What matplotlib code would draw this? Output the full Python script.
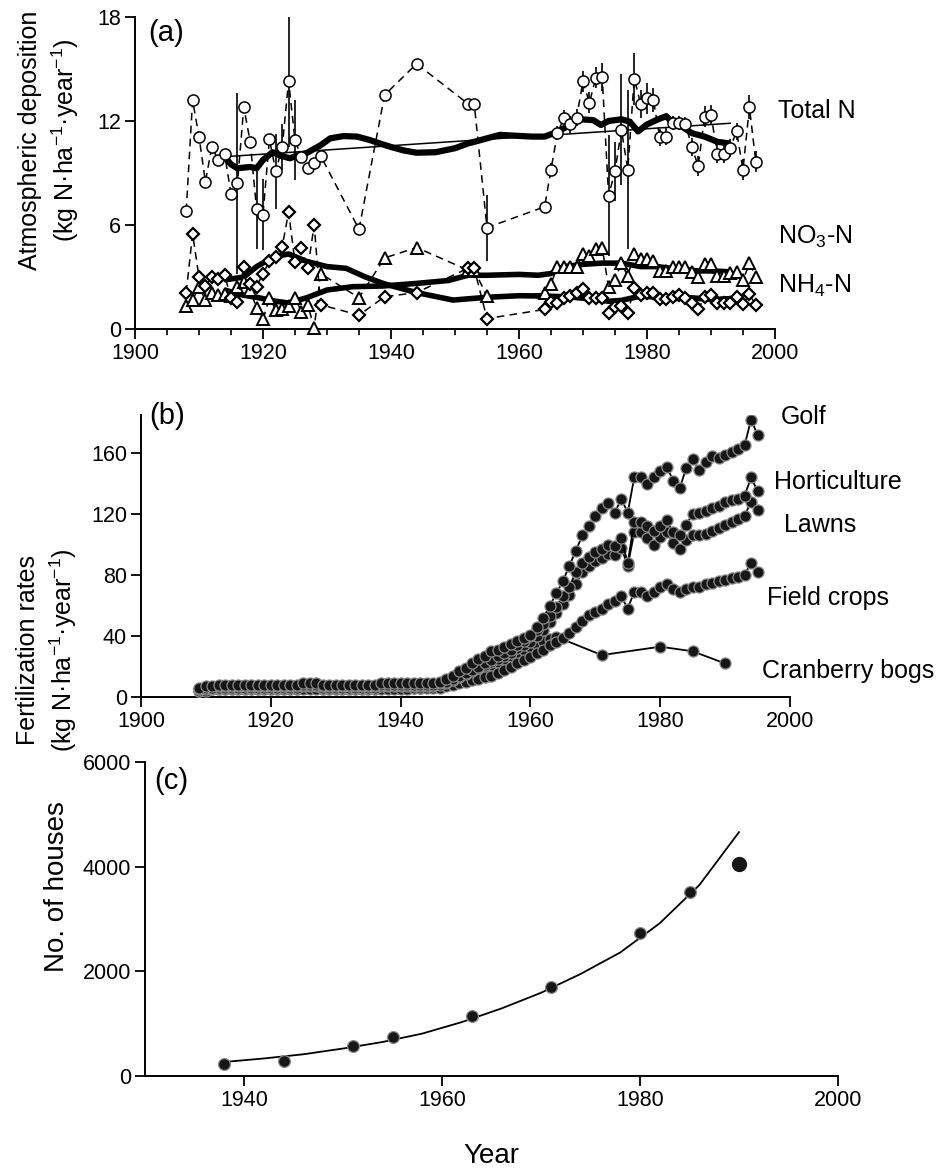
import numpy as np
import matplotlib
matplotlib.use("Agg")
from matplotlib import pyplot as plt
from matplotlib.ticker import MultipleLocator

plt.rcParams['font.family'] = ['Liberation Sans', 'DejaVu Sans']
plt.rcParams['mathtext.fontset'] = 'custom'
plt.rcParams['mathtext.rm'] = 'Liberation Sans'
plt.rcParams['mathtext.it'] = 'Liberation Sans:italic'

# ---- panel (a): atmospheric deposition ----
dep_years = [1908, 1909, 1910, 1911, 1912, 1913, 1914, 1915, 1916, 1917, 1918,
             1919, 1920, 1921, 1922, 1923, 1924, 1925, 1926, 1927, 1928, 1929,
             1935, 1939, 1944, 1952, 1953, 1955,
             1964, 1965, 1966, 1967, 1968, 1969, 1970, 1971, 1972, 1973, 1974,
             1975, 1976, 1977, 1978, 1979, 1980, 1981, 1982, 1983, 1984, 1985,
             1986, 1987, 1988, 1989, 1990, 1991, 1992, 1993, 1994, 1995, 1996, 1997]
total_n = [6.8, 13.2, 11.1, 8.5, 10.5, 9.75, 10.1, 7.8, 8.4, 12.8, 10.8,
           6.9, 6.6, 10.95, 9.1, 10.5, 14.3, 10.9, 9.9, 9.3, 9.6, 10.0,
           5.75, 13.5, 15.3, 13.0, 13.0, 5.85,
           7.05, 9.2, 11.3, 12.15, 11.8, 12.2, 14.3, 13.05, 14.5, 14.55, 7.7,
           9.1, 11.5, 9.2, 14.45, 13.0, 13.3, 13.2, 11.05, 11.1, 11.9, 11.9,
           11.85, 10.5, 9.4, 12.25, 12.35, 10.1, 10.1, 10.45, 11.4, 9.2, 12.8, 9.65]
total_n_err = [0, 0, 0, 0, 0, 0, 0, 0, 5.2, 0, 0,
               2.3, 2.05, 0, 2.15, 1.3, 3.8, 2.3, 0, 0, 0, 0,
               0, 0, 0, 0, 0, 1.9,
               0, 0.4, 0.4, 0.5, 0.5, 0.5, 0.6, 0.6, 0.6, 0.8, 3.5,
               1.7, 3.2, 4.6, 1.5, 0.8, 0.9, 0.7, 0.5, 0.5, 0.4, 0.4,
               0.4, 0.5, 0.6, 0.6, 0.6, 0.5, 0.5, 0.5, 0.5, 0.6, 0.7, 0.6]
no3_n = [1.33, 1.67, 2.44, 1.67, 2.1, 1.95, 2.0, 1.9, 2.4, 2.7, 2.25,
         1.2, 0.55, 1.8, 1.1, 1.15, 1.3, 1.8, 1.0, 1.4, 0.05, 3.2,
         1.8, 4.1, 4.7, 3.4, 3.4, 1.9,
         2.05, 2.6, 3.6, 3.6, 3.6, 3.6, 4.3, 4.2, 4.6, 4.7, 2.4,
         2.85, 3.8, 3.05, 4.35, 4.05, 4.05, 3.9, 3.35, 3.35, 3.6, 3.6,
         3.6, 3.3, 3.0, 3.75, 3.75, 3.05, 3.05, 3.25, 3.3, 2.8, 3.8, 3.0]
nh4_n = [2.1, 5.5, 2.98, 2.5, 3.0, 2.9, 3.1, 1.8, 1.57, 3.6, 2.6,
         2.45, 3.2, 3.9, 4.15, 4.75, 6.75, 3.85, 4.65, 3.5, 6.0, 1.4,
         0.8, 1.86, 2.1, 3.5, 3.5, 0.6,
         1.13, 1.57, 1.5, 1.8, 1.9, 2.05, 2.3, 1.77, 1.8, 1.8, 0.94,
         1.29, 1.33, 0.94, 2.35, 1.96, 2.05, 2.1, 1.71, 1.71, 1.87, 1.96,
         1.8, 1.48, 1.13, 1.87, 1.96, 1.48, 1.48, 1.5, 1.87, 1.44, 2.0, 1.37]

# smoothed curves and regression line of total N
tn_smooth_x = [1914, 1915, 1916, 1918, 1919, 1920, 1921.5, 1922.7, 1924.2, 1925.3,
               1926.8, 1929, 1930.5, 1932.6, 1934.7, 1936.7, 1938.3, 1940, 1942, 1944,
               1947, 1950, 1952, 1955, 1957, 1960, 1962, 1964, 1965.5, 1967.5,
               1969.5, 1971.6, 1972.8, 1974, 1976, 1977.3, 1978.6, 1980, 1981.5, 1983,
               1984, 1985.5, 1987, 1989, 1991, 1993]
tn_smooth = [9.94, 9.5, 9.27, 9.35, 9.27, 9.75, 10.2, 10.0, 9.85, 10.0,
             10.15, 10.6, 11.0, 11.13, 11.1, 10.9, 10.7, 10.5, 10.3, 10.17,
             10.2, 10.43, 10.7, 11.0, 11.2, 11.14, 11.1, 11.1, 11.3, 11.67,
             12.1, 12.05, 11.77, 12.0, 12.1, 11.96, 11.4, 11.8, 12.06, 12.28,
             11.9, 11.67, 11.3, 11.1, 10.8, 10.7]
tn_fit_x = [1914, 1993]
tn_fit = [9.94, 11.87]
nh4_smooth_x = [1914, 1917, 1919, 1921.7, 1924, 1926.8, 1930, 1933, 1936, 1939,
                1944, 1949.7, 1955, 1960, 1964, 1968, 1972, 1974, 1976, 1979,
                1981, 1984, 1987, 1990, 1993]
nh4_smooth = [2.83, 3.0, 3.6, 4.17, 4.33, 3.9, 3.6, 3.5, 3.0, 2.6,
              2.1, 1.67, 1.83, 1.92, 1.9, 1.85, 1.7, 1.6, 1.65, 1.9,
              1.85, 1.75, 1.8, 1.7, 1.75]
no3_smooth_x = [1914, 1916.8, 1919.4, 1922, 1924, 1926.8, 1930, 1934, 1938.7, 1944,
                1949, 1952, 1955, 1960, 1963, 1965, 1967, 1970, 1973, 1976,
                1979, 1981.5, 1985, 1988, 1990, 1993]
no3_smooth = [2.25, 1.96, 1.8, 1.6, 1.5, 1.8, 2.25, 2.44, 2.48, 2.63,
              2.8, 3.1, 3.1, 3.15, 3.1, 3.2, 3.6, 3.73, 3.8, 3.8,
              3.6, 3.6, 3.45, 3.35, 3.35, 3.3]

# ---- panel (b): fertilization rates ----
fert_years = list(range(1909, 1996))
golf = [6, 7, 7, 8, 8, 8, 8, 8, 8, 8, 8, 8, 8, 8, 8, 8, 9, 9, 9, 8,
        8, 8, 8, 8, 8, 8, 8, 8, 9, 9, 9, 9, 9, 9, 9, 9, 9, 10, 12,
        14, 17, 19, 22, 25, 27, 30, 31, 33, 35, 37, 39, 41, 46, 52, 60,
        68, 76, 86, 96, 106, 112, 119, 124, 127, 121, 130, 121, 144, 144, 140,
        144, 148, 151, 142, 137, 150, 156, 149, 154, 158, 157, 159, 161, 163,
        165, 182, 172]
horticulture = [5, 6, 6, 7, 7, 7, 7, 7, 7, 7, 7, 7, 7, 7, 7, 7, 8, 8, 8, 7,
                7, 7, 7, 7, 7, 7, 7, 7, 8, 8, 8, 8, 8, 8, 8, 8, 8, 9, 10,
                12, 14, 16, 18, 20, 22, 24, 27, 29, 31, 34, 37, 40, 44, 48, 53,
                59, 66, 72, 82, 88, 92, 95, 97, 100, 99, 104, 88, 115, 115, 112,
                109, 112, 116, 108, 106, 113, 120, 121, 122, 124, 125, 128, 129, 130,
                132, 144, 135]
lawns = [5, 5, 6, 6, 6, 6, 6, 6, 6, 6, 6, 6, 6, 6, 6, 6, 7, 7, 7, 6,
         6, 6, 6, 6, 6, 6, 6, 6, 7, 7, 7, 7, 7, 7, 7, 7, 7, 8, 9,
         11, 13, 15, 17, 19, 21, 23, 25, 27, 29, 32, 34, 36, 40, 44, 49,
         55, 61, 67, 74, 82, 86, 89, 91, 94, 93, 98, 86, 108, 108, 104,
         100, 105, 108, 101, 97, 103, 106, 106, 107, 109, 111, 113, 115, 117,
         119, 128, 123]
field_crops = [4, 4, 5, 5, 5, 5, 5, 5, 5, 5, 5, 5, 5, 5, 5, 5, 5, 5, 5, 5,
               5, 5, 5, 5, 5, 5, 5, 5, 5, 5, 5, 5, 5, 6, 6, 6, 6, 6, 7,
               8, 9, 10, 11, 12, 13, 14, 16, 18, 20, 22, 24, 26, 29, 31, 34,
               36, 39, 42, 46, 50, 54, 56, 58, 61, 63, 66, 58, 69, 69, 66,
               69, 72, 74, 71, 69, 71, 72, 72, 74, 75, 76, 77, 78, 79,
               80, 88, 82]
cran_years = list(range(1909, 1965)) + [1971, 1980, 1985, 1990]
cranberry = [4, 5, 5, 5, 5, 5, 5, 5, 5, 5, 5, 5, 5, 5, 5, 5, 6, 6, 6, 5,
             5, 5, 5, 5, 5, 5, 5, 5, 6, 6, 6, 6, 6, 6, 6, 7, 7, 8, 9,
             10, 12, 13, 15, 17, 19, 21, 23, 25, 27, 29, 31, 33, 35, 37, 38, 39.5,
             27.5, 33, 30, 22]
fert_labels = ['Golf', 'Horticulture', 'Lawns', 'Field crops', 'Cranberry bogs']
fert_label_x = [1998.6, 1997.5, 1999.0, 1996.5, 1995.7]
fert_label_y = [184, 141, 113, 65, 17]

# ---- panel (c): houses ----
house_years = [1938, 1944, 1951, 1955, 1963, 1971, 1980, 1985, 1990]
houses = [236, 287, 573, 745, 1153, 1700, 2732, 3516, 4057]
house_fit_x = [1938, 1942, 1946, 1950, 1954, 1958, 1962, 1966, 1970, 1974,
               1978, 1982, 1986, 1990]
house_fit = [268, 335, 415, 525, 650, 810, 1030, 1290, 1590, 1950,
             2360, 2920, 3650, 4660]

fig = plt.figure(figsize=(9.4, 11.68), dpi=100)
ax_a = fig.add_axes([135/940, 1-329/1168, 640/940, 312/1168])
ax_b = fig.add_axes([141/940, 1-697/1168, 649/940, 282/1168])
ax_c = fig.add_axes([145/940, 1-1076/1168, 693/940, 314/1168])

tick_fs = 15.5
lab_fs = 18
for ax in (ax_a, ax_b, ax_c):
    for s in ('top', 'right'):
        ax.spines[s].set_visible(False)
    for s in ('left', 'bottom'):
        ax.spines[s].set_linewidth(1.4)
    ax.tick_params(direction='out', length=7, width=1.3, labelsize=tick_fs, pad=3)

dash = (0, (5, 3.5))

# panel a
ax = ax_a
ax.errorbar(dep_years, total_n, yerr=total_n_err, fmt='none', ecolor='black',
            elinewidth=1.2, capsize=0, zorder=2)
ax.plot(tn_fit_x, tn_fit, color='black', lw=1.1, zorder=2)
ax.plot(tn_smooth_x, tn_smooth, color='black', lw=4.5, solid_capstyle='butt', zorder=2)
ax.plot(nh4_smooth_x, nh4_smooth, color='black', lw=4, solid_capstyle='butt', zorder=2)
ax.plot(no3_smooth_x, no3_smooth, color='black', lw=4, solid_capstyle='butt', zorder=2)
ax.plot(dep_years, total_n, color='black', lw=1.1, linestyle=dash, marker='o', ms=8,
        mfc='white', mec='black', mew=1.1, zorder=3, clip_on=False)
ax.plot(dep_years, no3_n, color='black', lw=1.1, linestyle=dash, marker='^', ms=8.5,
        mfc='white', mec='black', mew=1.4, zorder=3, clip_on=False)
ax.plot(dep_years, nh4_n, color='black', lw=1.1, linestyle=dash, marker='D', ms=6,
        mfc='white', mec='black', mew=1.6, zorder=3, clip_on=False)
ax.set_xlim(1900, 2000)
ax.set_ylim(0, 18)
ax.set_xticks(range(1900, 2001, 20))
ax.xaxis.set_minor_locator(MultipleLocator(5))
ax.tick_params(which='minor', direction='out', length=4.5, width=1.2)
ax.set_yticks([0, 6, 12, 18])
ax.text(0.02, 0.995, '(a)', transform=ax.transAxes, fontsize=21, va='top', ha='left')
ax.text(2000.5, 12.6, 'Total N', fontsize=lab_fs, va='center', ha='left', clip_on=False)
ax.text(2000.5, 5.3, 'NO$_3$-N', fontsize=lab_fs, va='center', ha='left', clip_on=False)
ax.text(2000.5, 2.5, 'NH$_4$-N', fontsize=lab_fs, va='center', ha='left', clip_on=False)
fig.text(30/940, 1-140/1168, 'Atmospheric deposition', rotation=90, fontsize=lab_fs,
         ha='center', va='center')
fig.text(65/940, 1-140/1168, '(kg N·ha$^{-1}$·year$^{-1}$)', rotation=90, fontsize=lab_fs,
         ha='center', va='center')

# panel b
ax = ax_b
mk = dict(marker='o', ms=8, mfc='#161616', mec='#8a8a8a', mew=0.9, color='black', lw=1.3)
ax.plot(cran_years, cranberry, zorder=3, **mk)
ax.plot(fert_years, field_crops, zorder=4, **mk)
ax.plot(fert_years, lawns, zorder=5, **mk)
ax.plot(fert_years, horticulture, zorder=6, **mk)
ax.plot(fert_years, golf, zorder=7, **mk)
ax.set_xlim(1900, 2000)
ax.set_ylim(0, 185)
ax.set_xticks(range(1900, 2001, 20))
ax.set_yticks(range(0, 161, 40))
for lab, lx, ly in zip(fert_labels, fert_label_x, fert_label_y):
    ax.text(lx, ly, lab, fontsize=lab_fs, va='center', ha='left', clip_on=False)
ax.text(0.012, 1.045, '(b)', transform=ax.transAxes, fontsize=21, va='top', ha='left')
fig.text(28/940, 1-650/1168, 'Fertilization rates', rotation=90, fontsize=lab_fs,
         ha='center', va='center')
fig.text(63/940, 1-650/1168, '(kg N·ha$^{-1}$·year$^{-1}$)', rotation=90, fontsize=lab_fs,
         ha='center', va='center')

# panel c
ax = ax_c
ax.plot(house_fit_x, house_fit, color='black', lw=1.3, zorder=2)
ax.plot(house_years[:-1], houses[:-1], linestyle='none', marker='o', ms=8.5,
        mfc='#161616', mec='#8a8a8a', mew=0.9, zorder=3)
ax.plot(house_years[-1:], houses[-1:], linestyle='none', marker='o', ms=10,
        mfc='#161616', mec='#161616', zorder=3)
ax.set_xlim(1930, 2000)
ax.set_ylim(0, 6000)
ax.set_xticks(range(1940, 2001, 20))
ax.set_yticks(range(0, 6001, 2000))
ax.text(0.014, 0.985, '(c)', transform=ax.transAxes, fontsize=21, va='top', ha='left')
fig.text(57/940, 1-887/1168, 'No. of houses', rotation=90, fontsize=20,
         ha='center', va='center')
fig.text(0.5 * (145 + 838) / 940, 1-1156/1168, 'Year', fontsize=20, ha='center', va='center')

fig.savefig('out.png', dpi=100)
